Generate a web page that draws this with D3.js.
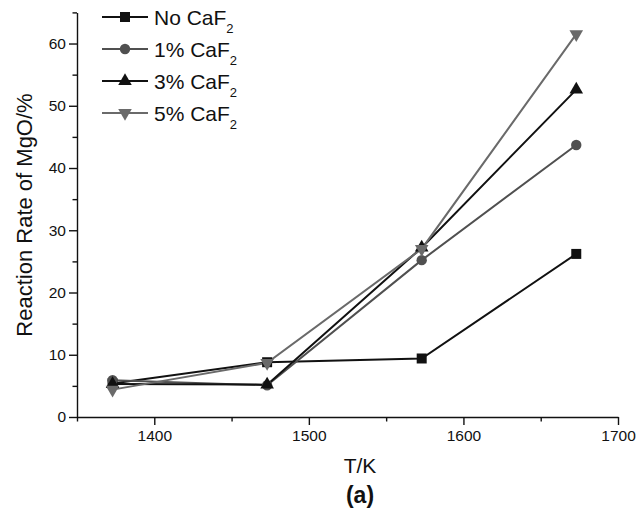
<!DOCTYPE html>
<html><head><meta charset="utf-8">
<script src="https://cdn.jsdelivr.net/npm/d3@7"></script>
<style>body{margin:0;background:#fff}svg{display:block}text{font-family:"Liberation Sans",Arial,sans-serif}</style>
</head><body>
<script>
const temps = [1373, 1473, 1573, 1673];
const seriesNames = ["No CaF", "1% CaF", "3% CaF", "5% CaF"];
const noCaF2 = [5.4, 8.8, 9.4, 26.2];
const caF2_1 = [5.9, 5.1, 25.2, 43.7];
const caF2_3 = [5.3, 5.2, 27.2, 52.6];
const caF2_5 = [4.4, 8.7, 27.0, 61.5];
const xTicks = [1400, 1500, 1600, 1700];
const yTicks = [0, 10, 20, 30, 40, 50, 60];

const W = 636, H = 512;
const svg = d3.select("body").append("svg").attr("width", W).attr("height", H);
const x = d3.scaleLinear().domain([1350, 1700]).range([77, 618]);
const y = d3.scaleLinear().domain([0, 65]).range([417, 12.4]);

const series = [
  {name: seriesNames[0], values: noCaF2, color: "#111", sym: d3.symbolSquare, size: 100, rot: 0},
  {name: seriesNames[1], values: caF2_1, color: "#505050", sym: d3.symbolCircle, size: 85, rot: 0},
  {name: seriesNames[2], values: caF2_3, color: "#111", sym: d3.symbolTriangle, size: 80, rot: 0},
  {name: seriesNames[3], values: caF2_5, color: "#6a6a6a", sym: d3.symbolTriangle, size: 80, rot: 180}
];

// axes
const xMinor = d3.range(1350, 1701, 50).filter(v => !xTicks.includes(v));
const yMinor = d3.range(5, 66, 10);
const xAx = svg.append("g").attr("transform", `translate(0,${y(0)})`)
  .call(d3.axisBottom(x).tickValues(xTicks).tickFormat(d3.format("d")).tickSize(8).tickPadding(5).tickSizeOuter(0));
xAx.selectAll(".tick text").attr("font-size", 15.5).attr("fill", "#111");
const xMin = svg.append("g").attr("transform", `translate(0,${y(0)})`)
  .call(d3.axisBottom(x).tickValues(xMinor).tickFormat("").tickSize(4.5).tickSizeOuter(0));
xMin.select(".domain").remove();
const yAx = svg.append("g").attr("transform", `translate(${x(1350)},0)`)
  .call(d3.axisLeft(y).tickValues(yTicks).tickSize(8).tickPadding(3).tickSizeOuter(0));
yAx.selectAll(".tick text").attr("font-size", 15.5).attr("fill", "#111");
const yMin = svg.append("g").attr("transform", `translate(${x(1350)},0)`)
  .call(d3.axisLeft(y).tickValues(yMinor).tickFormat("").tickSize(4.5).tickSizeOuter(0));
yMin.select(".domain").remove();
svg.selectAll(".domain, .tick line").attr("stroke", "#111").attr("stroke-width", 1.4);

// axis labels
svg.append("text").attr("x", 360).attr("y", 473).attr("text-anchor", "middle")
  .attr("font-size", 21).attr("fill", "#111").text("T/K");
svg.append("text").attr("transform", "translate(32,215) rotate(-90)").attr("text-anchor", "middle")
  .attr("font-size", 22).attr("fill", "#111").text("Reaction Rate of MgO/%");
svg.append("text").attr("x", 360).attr("y", 503).attr("text-anchor", "middle")
  .attr("font-size", 23).attr("font-weight", "bold").attr("fill", "#111").text("(a)");

// lines & markers
const line = d3.line().x((d, i) => x(temps[i])).y(d => y(d));
series.forEach(s => {
  svg.append("path").attr("d", line(s.values)).attr("fill", "none")
    .attr("stroke", s.color).attr("stroke-width", 2);
});
series.forEach(s => {
  svg.append("g").selectAll("path").data(s.values).join("path")
    .attr("d", d3.symbol().type(s.sym).size(s.size))
    .attr("transform", (d, i) => `translate(${x(temps[i])},${y(d)}) rotate(${s.rot})`)
    .attr("fill", s.color);
});

// legend
const leg = svg.append("g");
series.forEach((s, i) => {
  const ly = 17 + i * 32;
  leg.append("line").attr("x1", 102).attr("x2", 148).attr("y1", ly).attr("y2", ly)
    .attr("stroke", s.color).attr("stroke-width", 2);
  leg.append("path").attr("d", d3.symbol().type(s.sym).size(s.size))
    .attr("transform", `translate(125,${ly}) rotate(${s.rot})`).attr("fill", s.color);
  const t = leg.append("text").attr("x", 154).attr("y", ly + 7.5).attr("font-size", 21).attr("fill", "#111");
  t.append("tspan").text(s.name);
  t.append("tspan").attr("font-size", 13).attr("dy", 8).text("2");
});
</script>
</body></html>
